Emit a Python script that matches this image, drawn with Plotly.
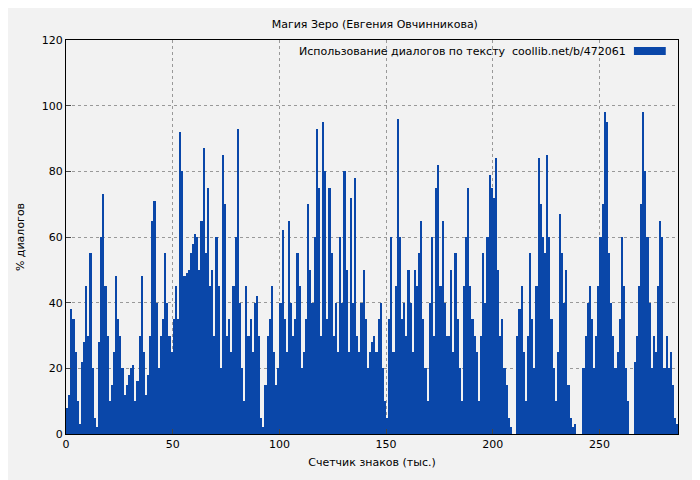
import plotly.graph_objects as go

x_start = 0
values = [8,12,38,35,25,10, 3,22,28,45,30, 55,20,5,2,28, 60,73,45,30,10,
 15,25,48,35,30, 20,12,15,18,20, 21,10,16,30,48, 25,12,18,30,65,
 71,40,20,30,35, 55,40,30,25,35, 45,35,92,80,48, 49,50,55,58,61,
 60,50,65,87,55, 75,45,50,30,60, 45,20,85,70,30, 35,25,45,60,93,
 40,20,10,45,30, 35,25,40,42,30, 5,2,15,30,35, 45,25,15,20,40,
 62,35,25,65,40, 30,35,55,45,20, 25,35,70,50,40, 60,93,75,30,95,
 80,35,75,55,30, 40,25,60,40,80, 50,25,72,40,78, 30,25,40,50,35,
 20,25,28,30,25, 35,40,20,10,5, 35,60,25,45,96, 60,35,40,30,50,
 40,25,50,45,55, 65,35,20,10,40, 60,30,75,82,45, 65,40,30,30,50,
 25,55,35,20,10, 45,60,75,45,35, 30,25,10,30,55, 40,60,79,75,72,
 84,50,30,35,20, 15,5,2,0,0, 30,38,45,25,10, 30,55,35,20,45,
 84,70,60,55,85, 60,35,20,10,25, 67,55,40,50,15, 5,2,3,0,0,
 0,20,30,40,45, 35,20,30,45,60, 70,98,95,55,40, 30,20,25,35,60,
 45,20,10,0,0, 22,30,45,70,98, 80,60,40,20,30, 25,45,65,60,20,
 30,20,25,15,5,3]
xs = [x_start + i + 0.5 for i in range(len(values))]
x_ticks = [0, 50, 100, 150, 200, 250]
y_ticks = [0, 20, 40, 60, 80, 100, 120]
title = "Магия Зеро (Евгения Овчинникова)"
legend_label = "Использование диалогов по тексту  coollib.net/b/472061"
blue = "#0a47a9"

fig = go.Figure(go.Bar(x=xs, y=values, width=1.0, marker=dict(color=blue, line=dict(width=0)),
                       showlegend=False))
font = dict(family="DejaVu Sans", size=11, color="#000")
fig.update_layout(
    width=700, height=480, paper_bgcolor="#f2f2f2", plot_bgcolor="#f2f2f2",
    margin=dict(l=54, r=30, t=32, b=54), bargap=0, font=font,
    title=dict(text=title, x=0.524, y=0.975, xanchor="center", font=dict(size=11)),
    xaxis=dict(range=[0, 286.8], tickvals=x_ticks, showgrid=True, gridcolor="#999",
               griddash="dot", showline=True, linecolor="#000", mirror=True, ticks="inside",
               ticklen=5, zeroline=False,
               title=dict(text="Счетчик знаков (тыс.)", standoff=8, font=dict(size=11))),
    yaxis=dict(range=[0, 120], tickvals=y_ticks, showgrid=True, gridcolor="#999",
               griddash="dot", showline=True, linecolor="#000", mirror=True, ticks="inside",
               ticklen=5, zeroline=False,
               title=dict(text="% диалогов", standoff=14, font=dict(size=11))),
    annotations=[dict(text=legend_label, xref="paper", yref="paper", x=0.918, y=0.972,
                      xanchor="right", yanchor="middle", showarrow=False, font=dict(size=11))],
    shapes=[dict(type="rect", xref="paper", yref="paper", x0=0.928, x1=0.98,
                 y0=0.962, y1=0.982, fillcolor=blue, line=dict(width=0))],
)
fig.write_html("out.html")
